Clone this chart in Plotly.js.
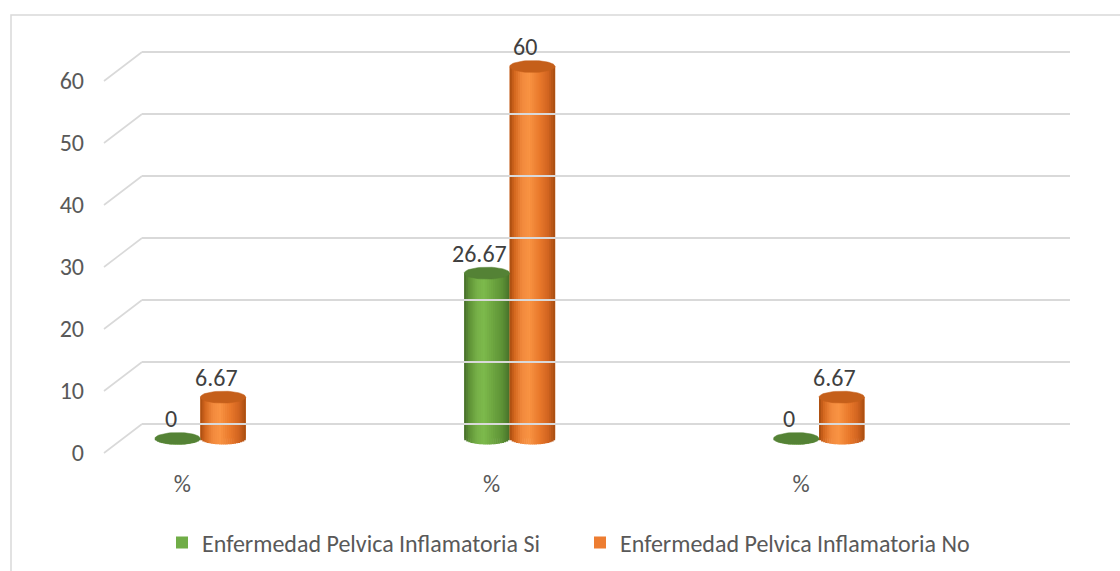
<!DOCTYPE html>
<html>
<head>
<meta charset="utf-8">
<script src="https://cdn.plot.ly/plotly-3.0.1.min.js"></script>
<style>
  html, body { margin: 0; padding: 0; background: #ffffff; }
  #chart { width: 1120px; height: 571px; }
</style>
</head>
<body>
<div id="chart"></div>
<script>
// ---- data ----
const categories = ['%', '%', '%'];
const seriesNames = ['Enfermedad Pelvica Inflamatoria Si', 'Enfermedad Pelvica Inflamatoria No'];
const valuesSi = [0, 26.67, 0];
const valuesNo = [6.67, 60, 6.67];
const yTickVals = [0, 10, 20, 30, 40, 50, 60];

// ---- geometry (pixels on a 1120 x 571 page) ----
const W = 1120, H = 571;
const fx = p => p / W;        // pixel column -> paper fraction
const fy = p => 1 - p / H;    // pixel row -> paper fraction
const K = 6.2;                // pixels per value unit
const wall = { left: 142, right: 1070, zeroRow: 424 };   // back wall of the floor
const depth = { dx: 38, dy: 29 };                         // floor depth offset
const mid = {                                             // plane the cylinders stand on
  left: wall.left - depth.dx / 2,
  right: wall.right - depth.dx / 2,
  zeroRow: wall.zeroRow + depth.dy / 2
};
const yRange = [-2.2, 68];
const y2Range = [-6, 61];

const BAR_W = 0.147;          // cylinder width, category units
const CAP_B = 6 / K;          // ellipse half-height, value units
const SLICES = 22;

const FONT = 'Carlito, Lato, "Liberation Sans", sans-serif';
const GRID = '#d9d9d9';
const TXT = '#595959';

function hex2rgb(h) { return [1, 3, 5].map(i => parseInt(h.substr(i, 2), 16)); }
function shade(stops, u) {
  for (let i = 0; i < stops.length - 1; i++) {
    const [u0, c0] = stops[i], [u1, c1] = stops[i + 1];
    if (u >= u0 && u <= u1) {
      const t = (u - u0) / (u1 - u0);
      const a = hex2rgb(c0), b = hex2rgb(c1);
      const m = a.map((v, k) => Math.round(v + (b[k] - v) * t));
      return 'rgb(' + m.join(',') + ')';
    }
  }
  return stops[stops.length - 1][1];
}

const series = [
  {
    name: seriesNames[0], values: valuesSi, side: -1,
    legendColor: '#70ad47', capColor: '#548235',
    stops: [[-1, '#44692a'], [-0.8, '#5d8f35'], [-0.45, '#76b048'], [-0.15, '#7dba4c'],
            [0.3, '#6ca43f'], [0.7, '#5b8f35'], [1, '#466f2a']]
  },
  {
    name: seriesNames[1], values: valuesNo, side: 1,
    legendColor: '#ed7d31', capColor: '#c55f1a',
    stops: [[-1, '#a54b0f'], [-0.8, '#d3661e'], [-0.45, '#f28a3d'], [-0.15, '#f99444'],
            [0.3, '#ea7a2c'], [0.7, '#d16420'], [1, '#a64d10']]
  }
];

const xIdx = categories.map((_, i) => i);
const traces = [];
const annotations = [];

series.forEach(s => {
  const c = s.side * BAR_W / 2;           // cylinder centre offset from category
  const left = c - BAR_W / 2;

  // flat body used for the legend entry
  traces.push({
    type: 'bar', x: xIdx, y: s.values, base: 0,
    offset: left, width: BAR_W,
    marker: { color: s.legendColor, line: { width: 0 } },
    name: s.name, legendgroup: s.name, showlegend: true, hoverinfo: 'skip'
  });

  // shaded cylinder body, built from narrow vertical strips
  const sw = BAR_W / SLICES;
  for (let i = 0; i < SLICES; i++) {
    const u = -1 + (2 * i + 1) / SLICES;
    const drop = CAP_B * Math.sqrt(Math.max(0, 1 - u * u));
    const w = i === SLICES - 1 ? sw : sw * 1.25;
    traces.push({
      type: 'bar', x: xIdx,
      y: s.values.map(v => v + drop), base: -drop,
      offset: left + i * sw, width: w,
      marker: { color: shade(s.stops, u), line: { width: 0 } },
      legendgroup: s.name, showlegend: false, hoverinfo: 'skip'
    });
  }

  // elliptical tops
  const ex = [], ey = [];
  s.values.forEach((v, j) => {
    for (let k = 0; k <= 60; k++) {
      const th = 2 * Math.PI * k / 60;
      ex.push(j + c + (BAR_W / 2) * Math.cos(th));
      ey.push(v + CAP_B * Math.sin(th));
    }
    ex.push(null); ey.push(null);
  });
  traces.push({
    type: 'scatter', mode: 'lines', x: ex, y: ey,
    fill: 'toself', fillcolor: s.capColor,
    line: { color: s.capColor, width: 0.5 },
    legendgroup: s.name, showlegend: false, hoverinfo: 'skip'
  });

  // value labels
  s.values.forEach((v, j) => {
    annotations.push({
      x: j + c, y: v, xref: 'x', yref: 'y',
      text: String(v), showarrow: false,
      xshift: -7, yshift: 20,
      font: { family: FONT, size: 24, color: '#404040' }
    });
  });
});

// front edges of the floor grid
const shapes = yTickVals.map(v => ({
  type: 'line', xref: 'paper', yref: 'y2',
  x0: fx(wall.left), y0: v,
  x1: fx(wall.left - depth.dx), y1: v - depth.dy / K,
  line: { color: GRID, width: 1.6 }, layer: 'below'
}));
// chart frame
shapes.push({
  type: 'rect', xref: 'paper', yref: 'paper',
  x0: fx(11), x1: 1.05, y0: -0.05, y1: fy(15),
  line: { color: GRID, width: 1.5 }, fillcolor: 'rgba(0,0,0,0)', layer: 'below'
});

const layout = {
  width: W, height: H,
  margin: { l: 0, r: 0, t: 0, b: 0, autoexpand: false },
  paper_bgcolor: '#ffffff', plot_bgcolor: 'rgba(0,0,0,0)',
  barmode: 'overlay',
  showlegend: true,
  xaxis: {
    domain: [fx(mid.left), fx(mid.right)], range: [-0.25, 2.75],
    anchor: 'y', tickvals: xIdx, ticktext: categories,
    showgrid: false, zeroline: false, showline: false, ticks: '',
    ticklabelshift: -18, ticklabelstandoff: 15,
    tickfont: { family: FONT, size: 24, color: TXT }, fixedrange: true
  },
  yaxis: {
    domain: [fy(mid.zeroRow - yRange[0] * K), fy(mid.zeroRow - yRange[1] * K)],
    range: yRange, anchor: 'x',
    showgrid: false, zeroline: false, showline: false, showticklabels: false, ticks: '',
    fixedrange: true
  },
  xaxis2: {
    domain: [fx(wall.left), fx(wall.right)], range: [0, 1], anchor: 'y2',
    showgrid: false, zeroline: false, showline: false, showticklabels: false, ticks: '',
    fixedrange: true
  },
  yaxis2: {
    domain: [fy(wall.zeroRow - y2Range[0] * K), fy(wall.zeroRow - y2Range[1] * K)],
    range: y2Range, anchor: 'x2',
    tickvals: yTickVals, ticktext: yTickVals.map(String),
    showgrid: true, gridcolor: GRID, gridwidth: 1.6,
    zeroline: false, showline: false, ticks: '',
    ticklabelshift: 29, ticklabelstandoff: 57,
    tickfont: { family: FONT, size: 24, color: TXT }, fixedrange: true
  },
  legend: {
    orientation: 'h', x: fx(162), xanchor: 'left', y: fy(543), yanchor: 'middle',
    font: { family: FONT, size: 24, color: TXT },
    entrywidth: 373, entrywidthmode: 'pixels', traceorder: 'normal'
  },
  shapes: shapes,
  annotations: annotations
};

Plotly.newPlot('chart', traces, layout, { displayModeBar: false, staticPlot: true });
</script>
</body>
</html>
